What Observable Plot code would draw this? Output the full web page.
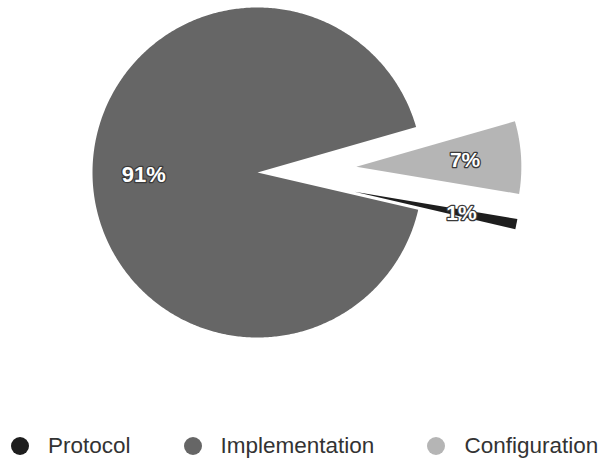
<!DOCTYPE html>
<html>
<head>
<meta charset="utf-8">
<script src="https://cdn.jsdelivr.net/npm/d3@7"></script>
<script src="https://cdn.jsdelivr.net/npm/@observablehq/plot@0.6"></script>
<style>
  html, body { margin: 0; padding: 0; background: #fff; }
  #chart { width: 603px; }
  .legend {
    display: flex; align-items: center; height: 39px; margin-top: 6px;
    padding-left: 11px; box-sizing: border-box;
    font-family: "Liberation Sans", Arial, sans-serif; font-size: 22.5px; color: #333;
  }
  .legend .item { display: flex; align-items: center; margin-right: 53px; }
  .legend .dot { width: 18px; height: 18px; border-radius: 50%; margin-right: 19px; }
</style>
</head>
<body>
<div id="chart"></div>
<script>
// Share of issues by category
const categories = ["Protocol", "Implementation", "Configuration"];
const values = [1, 91, 7];
const labels = ["1%", "91%", "7%"];
const colors = ["#1e1e1e", "#666666", "#b5b5b5"];

// Clockwise drawing order of the wedges, starting just above 3 o'clock
const pieOrder = ["Configuration", "Protocol", "Implementation"];
// How far each wedge is pulled out along its bisector (in radii)
const explode = {Protocol: 0.6, Implementation: 0, Configuration: 0.6};

const W = 603, H = 420;
const cx = 257, cy = 172, R = 165;   // pie centre and radius in pixels

const valueOf = c => values[categories.indexOf(c)];
const arcs = d3.pie()
  .value(valueOf)
  .sort(null)
  .startAngle(74 * Math.PI / 180)
  .endAngle(74 * Math.PI / 180 + 2 * Math.PI)(pieOrder);

// Polygon outline (apex + sampled arc) for each wedge in unit-radius coordinates
const outline = [];
const labelPts = [];
for (const a of arcs) {
  const cat = a.data;
  const mid = (a.startAngle + a.endAngle) / 2;
  const ox = explode[cat] * Math.sin(mid), oy = explode[cat] * Math.cos(mid);
  outline.push({category: cat, x: ox, y: oy});
  const n = Math.max(4, Math.ceil((a.endAngle - a.startAngle) / 0.01));
  for (let i = 0; i <= n; ++i) {
    const t = a.startAngle + (a.endAngle - a.startAngle) * i / n;
    outline.push({category: cat, x: ox + Math.sin(t), y: oy + Math.cos(t)});
  }
  outline.push({category: cat, x: ox, y: oy});
  const lr = cat === "Implementation" ? 0.69 : 0.66;
  labelPts.push({
    category: cat,
    label: labels[categories.indexOf(cat)],
    x: ox + lr * Math.sin(mid),
    y: oy + lr * Math.cos(mid)
  });
}

const plot = Plot.plot({
  width: W,
  height: H,
  margin: 0,
  x: {domain: [-cx / R, (W - cx) / R], axis: null},
  y: {domain: [-(H - cy) / R, cy / R], axis: null},
  color: {domain: categories, range: colors},
  marks: [
    Plot.line(outline, {x: "x", y: "y", z: "category", fill: "category", stroke: null, curve: "linear"}),
    Plot.text(labelPts, {
      x: "x", y: "y", text: "label",
      fill: "white", stroke: "#3a3a3a", strokeWidth: 2.5,
      fontSize: d => d.category === "Implementation" ? 22 : 21, fontWeight: "bold",
      fontFamily: "Liberation Sans, Arial, sans-serif"
    })
  ]
});
document.getElementById("chart").append(plot);

// Legend below the chart
const legend = document.createElement("div");
legend.className = "legend";
categories.forEach((c, i) => {
  const item = document.createElement("div");
  item.className = "item";
  const dot = document.createElement("span");
  dot.className = "dot";
  dot.style.background = colors[i];
  const txt = document.createElement("span");
  txt.textContent = c;
  item.append(dot, txt);
  legend.append(item);
});
document.getElementById("chart").append(legend);
</script>
</body>
</html>
